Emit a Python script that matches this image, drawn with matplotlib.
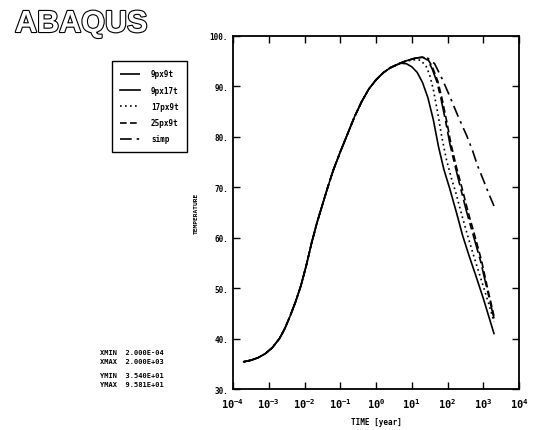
import matplotlib
matplotlib.use("Agg")
import matplotlib.pyplot as plt
import matplotlib.patheffects as pe
import numpy as np

# log10(time in years) and temperature
rise_logt = [-3.7, -3.5, -3.3, -3.1, -2.9, -2.7, -2.55, -2.4, -2.25, -2.1,
             -1.95, -1.8, -1.65, -1.5, -1.35, -1.2, -1.0, -0.8, -0.6, -0.4,
             -0.2, 0.0, 0.2, 0.4, 0.55]
rise_temp = [35.4, 35.7, 36.2, 37.0, 38.2, 40.0, 42.0, 44.5, 47.3, 50.5,
             54.5, 59.0, 63.0, 66.5, 70.0, 73.3, 77.0, 80.5, 84.0, 87.0,
             89.5, 91.3, 92.7, 93.7, 94.2]

tail_logt = {
    "9px9t":  [0.7, 0.9, 1.1, 1.3, 1.45, 1.57, 1.7, 1.82, 1.95, 2.07, 2.22,
               2.36, 2.54, 2.72, 2.92, 3.1, 3.3],
    "9px17t": [0.7, 0.85, 1.0, 1.15, 1.3, 1.45, 1.6, 1.75, 1.9, 2.06, 2.25,
               2.42, 2.6, 2.8, 3.0, 3.15, 3.3],
    "17px9t": [0.7, 0.9, 1.1, 1.25, 1.4, 1.5, 1.6, 1.72, 1.84, 1.97, 2.1,
               2.23, 2.4, 2.56, 2.75, 2.95, 3.15, 3.3],
    "25px9t": [0.7, 0.9, 1.1, 1.3, 1.45, 1.57, 1.73, 1.85, 1.98, 2.1, 2.25,
               2.4, 2.58, 2.76, 2.95, 3.12, 3.3],
    "simp":   [0.7, 0.9, 1.1, 1.3, 1.45, 1.64, 1.85, 2.06, 2.3, 2.54, 2.7,
               2.84, 3.0, 3.15, 3.3],
}
tail_temp = {
    "9px9t":  [94.7, 95.2, 95.6, 95.8, 95.2, 93.5, 91.0, 87.5, 83.0, 78.5, 74.0,
               70.0, 65.0, 60.5, 55.5, 50.0, 44.0],
    "9px17t": [94.6, 94.5, 93.9, 92.8, 90.8, 87.8, 83.5, 78.0, 73.5, 69.8, 65.0,
               60.5, 56.5, 52.3, 48.0, 44.5, 41.0],
    "17px9t": [94.7, 95.1, 95.3, 95.2, 94.0, 92.3, 89.5, 85.0, 80.0, 75.5, 72.0,
               69.0, 64.5, 60.5, 56.0, 51.5, 47.0, 43.3],
    "25px9t": [94.7, 95.2, 95.6, 95.8, 95.4, 94.0, 91.0, 87.5, 83.0, 78.5, 74.0,
               70.0, 65.0, 60.5, 55.5, 50.0, 44.5],
    "simp":   [94.7, 95.2, 95.6, 95.8, 95.6, 94.5, 91.5, 88.1, 84.0, 80.2, 77.3,
               74.3, 71.5, 68.8, 66.3],
}
styles = {
    "9px9t":  (0, (12, 2.5, 4, 2.5)),
    "9px17t": "-",
    "17px9t": (0, (1, 2)),
    "25px9t": (0, (4, 2)),
    "simp":   (0, (7, 3, 1.5, 3)),
}

yticks = [30, 40, 50, 60, 70, 80, 90, 100]
xdecades = [-4, -3, -2, -1, 0, 1, 2, 3, 4]
info_lines = ["XMIN  2.000E-04", "XMAX  2.000E+03", "YMIN  3.540E+01", "YMAX  9.581E+01"]

mono = "DejaVu Sans Mono"

fig = plt.figure(figsize=(5.35, 4.31), dpi=100)
ax = fig.add_axes([233 / 535, 1 - 390 / 431, (519 - 233) / 535, (390 - 37) / 431])

for name in tail_logt:
    lt = np.array(rise_logt + tail_logt[name])
    tt = np.array(rise_temp + tail_temp[name])
    ax.plot(10.0 ** lt, tt, color="black", lw=1.2, linestyle=styles[name], label=name)

ax.set_xscale("log")
ax.set_xlim(1e-4, 1e4)
ax.set_ylim(30, 100)
ax.set_yticks(yticks)
ax.set_yticklabels([f"{v}." for v in yticks], fontsize=5.5, family=mono, fontweight="bold")
ax.set_xticks([10.0 ** d for d in xdecades])
ax.set_xticklabels([f"$\\mathregular{{10^{{{d}}}}}$" for d in xdecades], fontsize=7.5,
                   family=mono, fontweight="bold")
ax.tick_params(which="both", direction="in", top=True, right=True, color="black")
ax.tick_params(which="major", length=5, width=1)
ax.tick_params(which="minor", length=2.5, width=0.8)
ax.tick_params(axis="x", pad=5)
for s in ax.spines.values():
    s.set_linewidth(1.3)

ax.set_xlabel("TIME [year]", fontsize=5.5, family=mono, fontweight="bold", labelpad=5)
ax.set_ylabel("TEMPERATURE", fontsize=4.5, family=mono, fontweight="bold", labelpad=8)

leg = fig.legend(loc="upper left", bbox_to_anchor=(112 / 535, 1 - 62 / 431),
                 prop={"family": mono, "size": 5.5, "weight": "bold"},
                 fancybox=False, edgecolor="black", framealpha=1,
                 handlelength=2.6, handletextpad=1.4, labelspacing=0.95,
                 borderpad=1.1, borderaxespad=0)
leg.get_frame().set_linewidth(1.0)

for i, line in enumerate(info_lines):
    yy = [353, 362, 376, 385][i]
    fig.text(100 / 535, 1 - yy / 431, line, fontsize=5, family=mono, fontweight="bold",
             va="center", ha="left")

fig.text(15 / 535, 1 - 25 / 431, "ABAQUS", fontsize=22, family="Liberation Sans",
         fontweight="bold", color="white", va="center", ha="left",
         path_effects=[pe.withStroke(linewidth=1.6, foreground="black")])

fig.savefig("out.png", dpi=100)
